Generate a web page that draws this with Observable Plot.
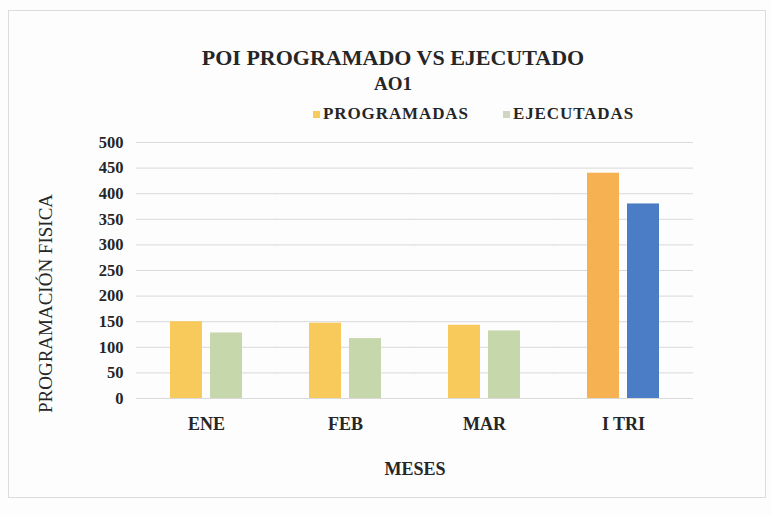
<!DOCTYPE html>
<html>
<head>
<meta charset="utf-8">
<script src="https://cdn.jsdelivr.net/npm/d3@7"></script>
<script src="https://cdn.jsdelivr.net/npm/@observablehq/plot@0.6"></script>
<style>
  html, body { margin: 0; padding: 0; background: #fdfdfd; }
  #wrap { position: relative; width: 771px; height: 517px; overflow: hidden; font-family: 'Liberation Serif', 'Times New Roman', 'DejaVu Serif', serif; }
  #frame { position: absolute; left: 8px; top: 10px; width: 758px; height: 488px; border: 1px solid #dcdcdc; box-sizing: border-box; }
  #head { position: relative; height: 125px; text-align: center; color: #262626; font-weight: bold; }
  #t1 { position: absolute; left: 0; width: 786px; top: 45px; font-size: 22px; }
  #t2 { position: absolute; left: 0; width: 786px; top: 73px; font-size: 19px; }
  #legend { position: absolute; left: 313px; top: 104px; font-size: 17px; letter-spacing: 0.9px; display: flex; align-items: center; }
  .sw { display: inline-block; width: 7px; height: 7px; margin-right: 3px; }
  .item { display: flex; align-items: center; }
  #chart { position: relative; }
  #chart svg { overflow: visible; }
</style>
</head>
<body>
<div id="wrap">
  <div id="frame"></div>
  <div id="head">
    <div id="t1">POI PROGRAMADO VS EJECUTADO</div>
    <div id="t2">AO1</div>
    <div id="legend"></div>
  </div>
  <div id="chart"></div>
</div>
<script>
const months = ["ENE", "FEB", "MAR", "I TRI"];
const series = ["PROGRAMADAS", "EJECUTADAS"];
const programadas = [150, 147, 143, 440];
const ejecutadas = [128, 117, 132, 380];
const yTicks = [0, 50, 100, 150, 200, 250, 300, 350, 400, 450, 500];

const colors = {
  PROGRAMADAS: "#f8ca5c",
  EJECUTADAS: "#c7d7ac",
  PROGRAMADAS_TOTAL: "#f5b152",
  EJECUTADAS_TOTAL: "#4a7dc5"
};

const data = [];
months.forEach((m, i) => {
  data.push({ month: m, serie: series[0], value: programadas[i] });
  data.push({ month: m, serie: series[1], value: ejecutadas[i] });
});

const fillOf = d => d.month === "I TRI" ? colors[d.serie + "_TOTAL"] : colors[d.serie];

// legend
const legend = document.getElementById("legend");
series.forEach((s, i) => {
  const it = document.createElement("span");
  it.className = "item";
  it.style.marginRight = i === 0 ? "34px" : "0";
  const sw = document.createElement("span");
  sw.className = "sw";
  sw.style.background = i === 0 ? "#f8ca5c" : "#cfd6c4";
  it.appendChild(sw);
  it.appendChild(document.createTextNode(s));
  legend.appendChild(it);
});

const serifFont = "'Liberation Serif', 'Times New Roman', 'DejaVu Serif', serif";

const chart = Plot.plot({
  width: 771,
  height: 392,
  marginLeft: 137,
  marginRight: 78,
  marginTop: 17,
  marginBottom: 119,
  style: { fontFamily: serifFont, background: "transparent", color: "#262626" },
  fx: { domain: months, padding: 0.48, paddingOuter: 0.24, label: null, axis: null },
  x: { domain: series, paddingInner: 0.2, paddingOuter: 0, axis: null },
  y: { domain: [0, 500], ticks: yTicks, label: null, axis: null },
  marks: [
    Plot.ruleY(yTicks, { stroke: "#d9d9d9", strokeWidth: 1, insetLeft: -34, insetRight: -34 }),
    Plot.barY(data, { fx: "month", x: "serie", y: "value", fill: fillOf }),
    Plot.axisY({ ticks: yTicks, tickSize: 0, tickPadding: 47, fontSize: 16.5, fontWeight: "bold", label: null, anchor: "left" }),
    Plot.axisFx({ anchor: "bottom", tickSize: 0, tickPadding: 19, fontSize: 18, fontWeight: "bold", label: null }),
    Plot.text(["PROGRAMACIÓN FISICA"], { frameAnchor: "left", textAnchor: "middle", dx: -125, dy: 33, rotate: -90, fontSize: 19, fill: "#262626", facet: "super" }),
    Plot.text(["MESES"], { frameAnchor: "bottom", dy: 76, fontSize: 18, fontWeight: "bold", fill: "#262626", facet: "super" })
  ]
});
document.getElementById("chart").appendChild(chart);
</script>
</body>
</html>
